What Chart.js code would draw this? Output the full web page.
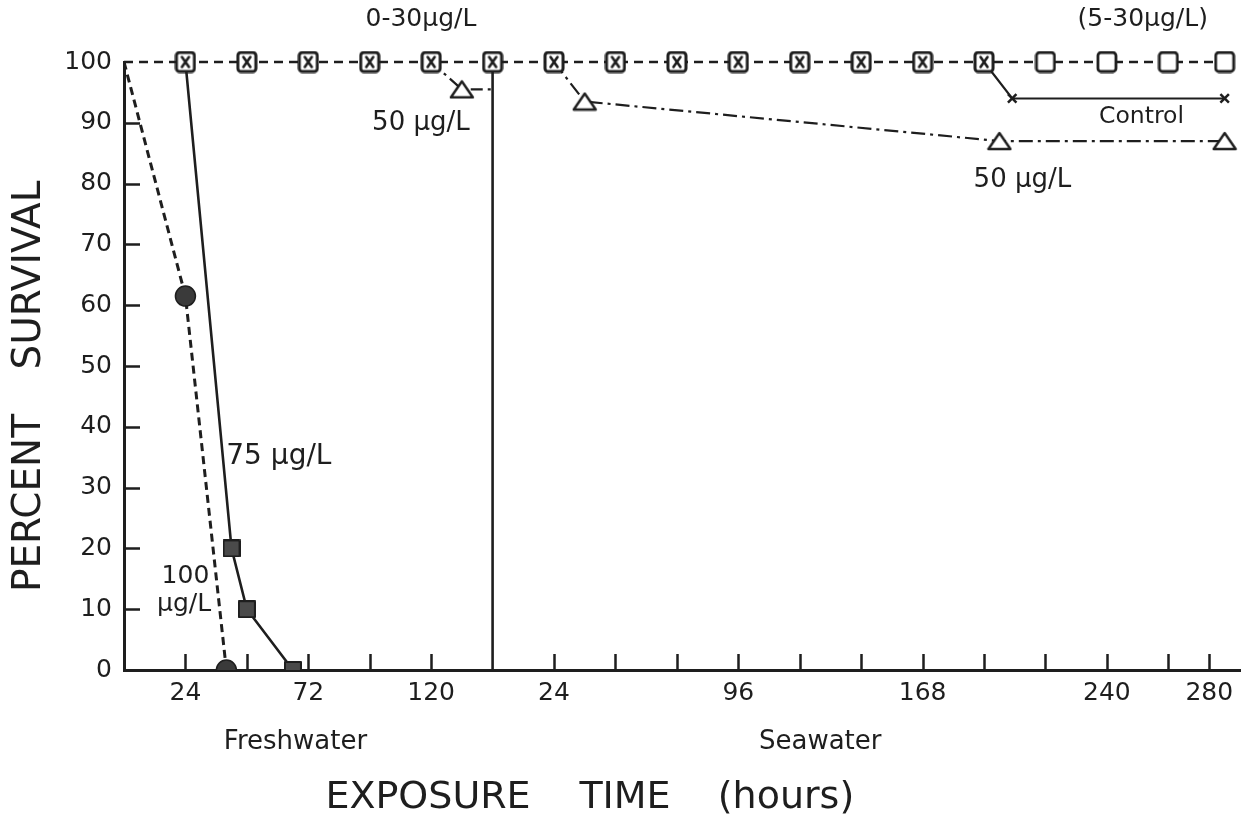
<!DOCTYPE html>
<html>
<head>
<meta charset="utf-8">
<script src="https://cdn.jsdelivr.net/npm/chart.js@4.4.0/dist/chart.umd.min.js"></script>
<style>
  html, body { margin: 0; padding: 0; background: #fff; }
  #wrap { width: 1257px; height: 815px; }
</style>
</head>
<body>
<div id="wrap"><canvas id="chart" width="1257" height="815"></canvas></div>
<script>
// Percent survival during freshwater exposure (0-144 h) and after transfer to seawater.
// One continuous hour axis: seawater hours are shifted by FRESH_END.

const FRESH_END = 144;
const X_MAX = 436;
const INK = '#1e1e1e';
const FONT = '"DejaVu Sans", sans-serif';

// tick labels and tick marks (hours within each phase)
const freshLabelHours = [24, 72, 120];
const seaLabelHours = [24, 96, 168, 240, 280];
const freshTickHours = [24, 48, 72, 96, 120];
const seaTickHours = [24, 48, 72, 96, 120, 144, 168, 192, 216, 240, 264, 280];
const yTickValues = [10, 20, 30, 40, 50, 60, 70, 80, 90];

// 0-30 ug/L, continued in seawater (5-30 ug/L after 192 h)
const lowFreshHours = [0, 24, 48, 72, 96, 120, 144];
const lowFreshSurvival = [100, 100, 100, 100, 100, 100, 100];
const lowSeaHours = [24, 48, 72, 96, 120, 144, 168, 192];
const lowSeaSurvival = [100, 100, 100, 100, 100, 100, 100, 100];
const midSeaHours = [216, 240, 264, 286];
const midSeaSurvival = [100, 100, 100, 100];

// control in seawater
const controlSeaHours = [192, 203, 286];
const controlSurvival = [100, 94, 94];

// 50 ug/L
const fiftyFreshHours = [120, 132, 144];
const fiftyFreshSurvival = [100, 95.5, 95.5];
const fiftySeaHours = [24, 36, 198, 286];
const fiftySeaSurvival = [100, 93.5, 87, 87];

// 75 ug/L
const seventyFiveHours = [24, 42, 48, 66];
const seventyFiveSurvival = [100, 20, 10, 0];

// 100 ug/L
const hundredHours = [0, 24, 40];
const hundredSurvival = [100, 61.5, 0];

// freshwater / seawater divider
const dividerHours = [FRESH_END, FRESH_END];
const dividerSurvival = [0, 100];

const sea = h => FRESH_END + h;
const toPoints = (hours, vals) => hours.map((h, i) => ({ x: h, y: vals[i] }));

// marker images
function makeMarker(w, h, draw) {
    const c = document.createElement('canvas');
    c.width = w; c.height = h;
    const ctx = c.getContext('2d');
    ctx.strokeStyle = INK;
    ctx.fillStyle = '#fff';
    ctx.lineJoin = 'round';
    ctx.lineCap = 'round';
    draw(ctx);
    return c;
}

const boxOpen = makeMarker(22, 23, ctx => {
    ctx.lineWidth = 2.8;
    ctx.beginPath();
    ctx.roundRect(2, 2, 18, 19, 3);
    ctx.fill();
    ctx.stroke();
});

const boxCross = makeMarker(22, 23, ctx => {
    ctx.lineWidth = 3;
    ctx.beginPath();
    ctx.roundRect(2, 2, 18, 19, 3);
    ctx.fill();
    ctx.stroke();
    ctx.lineWidth = 2.6;
    ctx.beginPath();
    ctx.moveTo(7.5, 6.5); ctx.lineTo(14.5, 16.5);
    ctx.moveTo(14.5, 6.5); ctx.lineTo(7.5, 16.5);
    ctx.stroke();
});

const triOpen = makeMarker(26, 20, ctx => {
    ctx.lineWidth = 2.4;
    ctx.beginPath();
    ctx.moveTo(13, 2); ctx.lineTo(24, 18); ctx.lineTo(2, 18);
    ctx.closePath();
    ctx.fill();
    ctx.stroke();
});

const boxFilled = makeMarker(18, 18, ctx => {
    ctx.fillStyle = '#4a4a4a';
    ctx.lineWidth = 2;
    ctx.fillRect(1, 1, 16, 16);
    ctx.strokeRect(1, 1, 16, 16);
});

// low series: freshwater + seawater, one dashed line
const lowPoints = toPoints(lowFreshHours, lowFreshSurvival)
    .concat(toPoints(lowSeaHours.map(sea), lowSeaSurvival))
    .concat(toPoints(midSeaHours.map(sea), midSeaSurvival));
const lowStyles = lowFreshHours.map(h => h === 0 ? false : boxCross)
    .concat(lowSeaHours.map(() => boxCross))
    .concat(midSeaHours.map(() => boxOpen));
const lowRadius = lowFreshHours.map(h => h === 0 ? 0 : 10)
    .concat(lowSeaHours.map(() => 10))
    .concat(midSeaHours.map(() => 10));

const datasets = [
    {
        label: '0-30 ug/L',
        data: lowPoints,
        borderColor: INK,
        borderWidth: 2.6,
        borderDash: [9, 6],
        pointStyle: lowStyles,
        pointRadius: lowRadius,
        clip: false
    },
    {
        label: 'Control',
        data: toPoints(controlSeaHours.map(sea), controlSurvival),
        borderColor: INK,
        borderWidth: 2.2,
        pointStyle: 'crossRot',
        pointRadius: [0, 6, 6],
        pointBorderWidth: 2.5,
        pointBorderColor: INK,
        clip: false
    },
    {
        label: '50 ug/L freshwater',
        data: toPoints(fiftyFreshHours, fiftyFreshSurvival),
        borderColor: INK,
        borderWidth: 2.2,
        borderDash: [12, 5, 3, 5],
        pointStyle: triOpen,
        pointRadius: [0, 10, 0],
        clip: false
    },
    {
        label: '50 ug/L seawater',
        data: toPoints(fiftySeaHours.map(sea), fiftySeaSurvival),
        borderColor: INK,
        borderWidth: 2.2,
        borderDash: [14, 5, 3, 5],
        pointStyle: triOpen,
        pointRadius: [0, 10, 10, 10],
        clip: false
    },
    {
        label: '75 ug/L',
        data: toPoints(seventyFiveHours, seventyFiveSurvival),
        borderColor: INK,
        borderWidth: 2.6,
        pointStyle: boxFilled,
        pointRadius: [0, 10, 10, 10]
    },
    {
        label: '100 ug/L',
        data: toPoints(hundredHours, hundredSurvival),
        borderColor: INK,
        borderWidth: 3,
        borderDash: [8, 5],
        pointStyle: 'circle',
        pointRadius: [0, 10, 10],
        pointBackgroundColor: '#3a3a3a',
        pointBorderColor: INK,
        pointBorderWidth: 1.5
    },
    {
        label: 'divider',
        data: toPoints(dividerHours, dividerSurvival),
        borderColor: INK,
        borderWidth: 2.6,
        pointRadius: 0,
        clip: false
    }
];

// text inside the plot, anchored in data units (x hours on the combined axis, y percent)
const plotLabels = [
    { text: '0-30\u00b5g/L', x: 116, y: 107, size: 25 },
    { text: '(5-30\u00b5g/L)', x: 398, y: 107, size: 25 },
    { text: '50 \u00b5g/L', x: 116, y: 90, size: 26 },
    { text: 'Control', x: 397.5, y: 91, size: 23.5 },
    { text: '50 \u00b5g/L', x: 351, y: 80.6, size: 26 },
    { text: '75 \u00b5g/L', x: 60.5, y: 35, size: 28 },
    { text: '100', x: 24, y: 15.3, size: 25 },
    { text: '\u00b5g/L', x: 23.5, y: 10.7, size: 25 }
];

// inner tick marks and all annotation text
const decorPlugin = {
    id: 'decor',
    afterDatasetsDraw(chart) {
        const { ctx, chartArea: a, scales: { x, y } } = chart;
        ctx.save();
        ctx.strokeStyle = INK;
        ctx.lineWidth = 2.5;
        ctx.beginPath();
        freshTickHours.concat(seaTickHours.map(sea)).forEach(h => {
            const px = Math.round(x.getPixelForValue(h)) + 0.5;
            ctx.moveTo(px, a.bottom);
            ctx.lineTo(px, a.bottom - 16);
        });
        yTickValues.forEach(v => {
            const py = Math.round(y.getPixelForValue(v)) + 0.5;
            ctx.moveTo(a.left, py);
            ctx.lineTo(a.left + 16, py);
        });
        ctx.stroke();

        ctx.fillStyle = INK;
        ctx.textAlign = 'center';
        ctx.textBaseline = 'middle';
        plotLabels.forEach(l => {
            ctx.font = l.size + 'px ' + FONT;
            ctx.fillText(l.text, x.getPixelForValue(l.x), y.getPixelForValue(l.y));
        });

        ctx.font = '26px ' + FONT;
        ctx.fillText('Freshwater', x.getPixelForValue(67), a.bottom + 72);
        ctx.fillText('Seawater', x.getPixelForValue(sea(128)), a.bottom + 72);

        ctx.font = '38px ' + FONT;
        ctx.fillText('EXPOSURE', 428, 798);
        ctx.fillText('TIME', 625, 798);
        ctx.fillText('(hours)', 786, 798);

        ctx.font = '39px ' + FONT;
        ctx.translate(30, 385);
        ctx.rotate(-Math.PI / 2);
        ctx.fillText('PERCENT', -118, 0);
        ctx.fillText('SURVIVAL', 110, 0);
        ctx.restore();
    }
};

new Chart(document.getElementById('chart'), {
    type: 'line',
    data: { datasets },
    options: {
        responsive: false,
        animation: false,
        layout: { padding: { top: 62, right: 17, left: 0, bottom: 0 } },
        plugins: { legend: { display: false }, tooltip: { enabled: false } },
        elements: { line: { tension: 0, fill: false } },
        scales: {
            x: {
                type: 'linear',
                min: 0,
                max: X_MAX,
                afterBuildTicks: s => {
                    s.ticks = freshLabelHours.concat(seaLabelHours.map(sea)).map(v => ({ value: v }));
                },
                afterFit: s => { s.height = 145; },
                grid: { drawOnChartArea: false, drawTicks: false },
                border: { display: true, color: INK, width: 3 },
                ticks: {
                    autoSkip: false,
                    maxRotation: 0,
                    padding: 8,
                    color: INK,
                    font: { family: FONT, size: 25 },
                    callback: v => v > FRESH_END ? v - FRESH_END : v
                }
            },
            y: {
                min: 0,
                max: 100,
                afterFit: s => { s.width = 124; },
                grid: { drawOnChartArea: false, drawTicks: false },
                border: { display: true, color: INK, width: 3 },
                ticks: {
                    stepSize: 10,
                    padding: 12,
                    color: INK,
                    font: { family: FONT, size: 25 }
                }
            }
        }
    },
    plugins: [decorPlugin]
});
</script>
</body>
</html>
